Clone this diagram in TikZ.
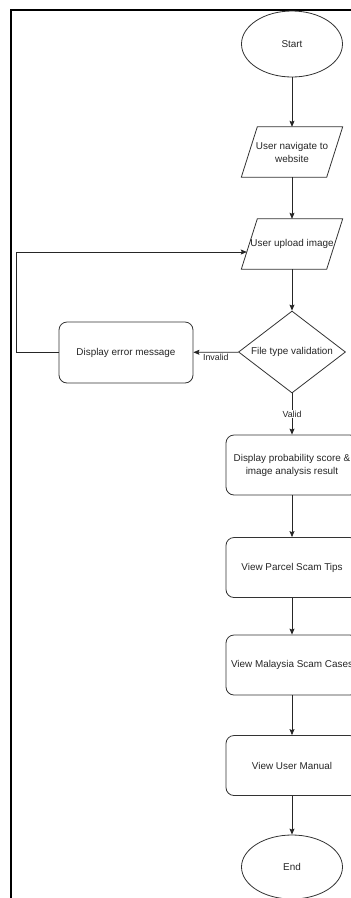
\documentclass[tikz,border=0pt]{standalone}
\usepackage{fontspec}
\setmainfont{Liberation Sans}
\usetikzlibrary{shapes.geometric,arrows.meta,calc}
\begin{document}
\begin{tikzpicture}[x=1pt,y=-1pt,
  every node/.style={font=\fontsize{9.9}{13}\selectfont, text=black!85},
  line/.style={draw=black!80, line width=0.8pt},
  term/.style={line, ellipse, minimum width=101pt, minimum height=66pt, inner sep=0pt},
  iotext/.style={rectangle, minimum width=85pt, minimum height=50pt, inner sep=0pt, align=center},
  proc/.style={line, rectangle, rounded corners=8pt, minimum width=132pt, minimum height=60pt, inner sep=0pt, align=center},
  dec/.style={line, diamond, shape aspect=1.3, minimum width=107pt, minimum height=82pt, inner sep=0pt},
  arr/.style={draw=black!85, line width=0.8pt, -{Stealth[length=6pt,width=5pt,inset=1pt]}},
  lbl/.style={font=\fontsize{8.8}{10}\selectfont, fill=white, inner sep=1pt},
  frame/.style={draw=black, line width=2pt}
]
\useasboundingbox (0,0) rectangle (351,898);
\clip (0,0) rectangle (351,898);
\fill[white] (0,0) rectangle (351,898);
\draw[frame] (11,920) -- (11,10) -- (370,10);

\node[term] (start) at (292,44) {Start};
\node[iotext] (nav) at (292,152) {User navigate to\\website};
\node[iotext] (up) at (292,244) {User upload image};
\foreach \n in {nav,up}{
  \draw[line] ($(\n.south west)+(-8,0)$) -- ($(\n.north west)+(8,0)$) -- ($(\n.north east)+(8,0)$) -- ($(\n.south east)+(-8,0)$) -- cycle;
}
\node[dec] (val) at (292,352) {File type validation};
\node[proc, minimum width=134pt, minimum height=61pt] (err) at (126,352.5) {Display error message};
\node[proc] (prob) at (292,465) {Display probability score \&\\image analysis result};
\node[proc] (tips) at (292,567.5) {View Parcel Scam Tips};
\node[proc] (cases) at (292,665) {View Malaysia Scam Cases};
\node[proc] (man) at (292,765.5) {View User Manual};
\node[term, minimum height=64pt] (end) at (292,867) {End};

\coordinate (upin) at ($(up.west)+(-2.5,8)$);

\draw[arr] (start) -- (nav);
\draw[arr] (nav) -- (up);
\draw[arr] (up) -- (val);
\draw[arr] (val) -- node[lbl, fill=none, below=0pt] {Invalid} (err);
\draw[arr] (val) -- node[lbl] {Valid} (prob);
\draw[arr] (prob) -- (tips);
\draw[arr] (tips) -- (cases);
\draw[arr] (cases) -- (man);
\draw[arr] (man) -- (end);
\draw[arr] (err.west) -- ++(-42,0) |- (upin);
\end{tikzpicture}
\end{document}
